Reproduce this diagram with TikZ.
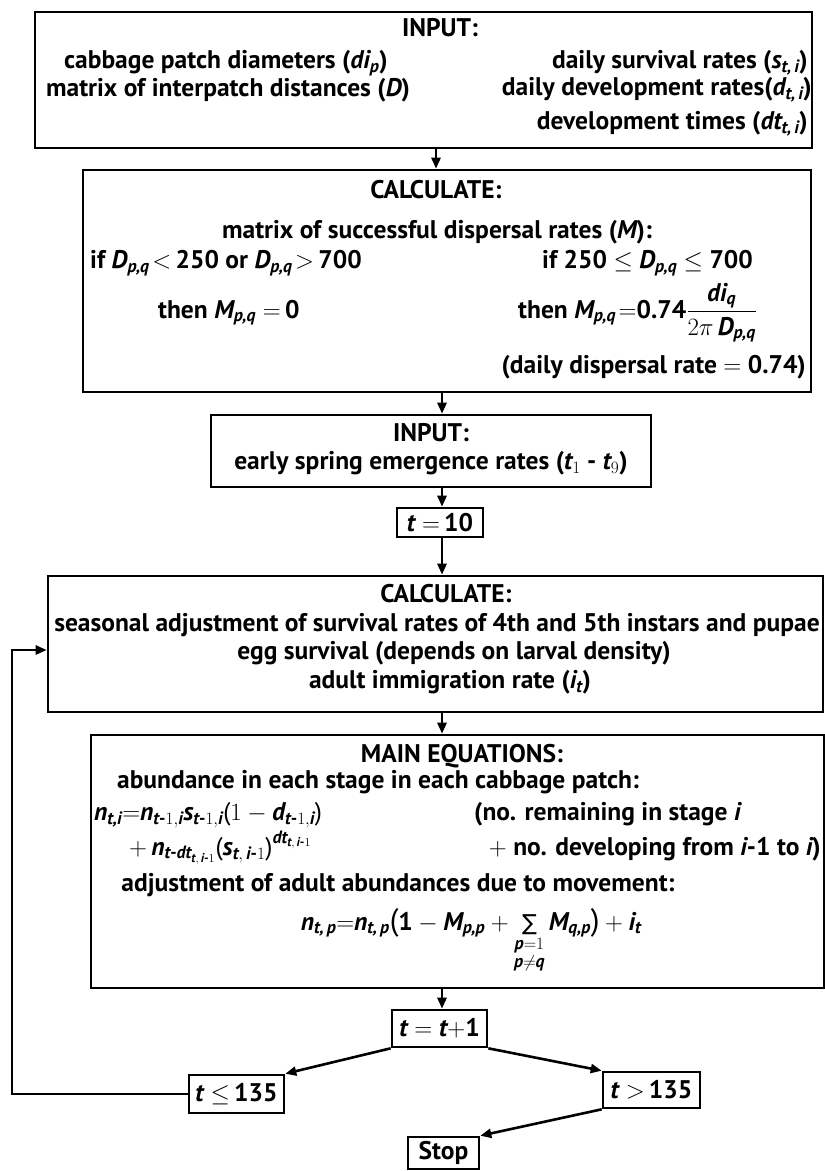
\documentclass[tikz,border=0pt]{standalone}
\usepackage{amsmath}
\usepackage{fontspec}
\setmainfont{PT Sans}
\newfontfamily\djv{DejaVu Sans}
\usetikzlibrary{arrows.meta,calc}
\newcommand\V[1]{\text{\bfseries\itshape #1}}
\newcommand\SUM{\mathop{\text{\djv\mdseries\fontsize{22}{22}\selectfont ∑}}\limits}
\newcommand\BP[1]{\text{\mdseries\fontsize{31}{31}\selectfont #1}}
\newcommand\TP[1]{\text{\mdseries #1}}
\begin{document}
\begin{tikzpicture}[x=1pt,y=-1pt,
  box/.style={draw,line width=2.6pt,inner sep=0pt},
  txt/.style={inner sep=0pt,font=\bfseries\fontsize{25.5}{28}\selectfont},
  arr/.style={line width=2.6pt,-{Triangle[length=11pt,width=9pt]}}]
\useasboundingbox (0,0) rectangle (825,1171);
% boxes
\node[box,minimum width=777pt,minimum height=136pt] (b1) at (423.5,80) {};
\node[box,minimum width=728pt,minimum height=222pt] (b2) at (447,281) {};
\node[box,minimum width=440pt,minimum height=72pt] (b3) at (431,451) {};
\node[box,txt,minimum width=86pt,minimum height=29pt] (t10) at (440,522.5) {$\V{t}=$\,10};
\node[box,minimum width=775pt,minimum height=136pt] (b4) at (435.5,644) {};
\node[box,minimum width=733pt,minimum height=253pt] (b5) at (457.5,861.5) {};
\node[box,txt,minimum width=95pt,minimum height=37pt] (tp1) at (439.5,1028.5) {$\V{t}=\V{t}+$1};
\node[box,txt,minimum width=95pt,minimum height=38pt] (tle) at (236.5,1094) {$\V{t}\le$\,135};
\node[box,txt,minimum width=97pt,minimum height=36pt] (tgt) at (651.5,1090) {$\V{t}>$\,135};
\node[box,txt,minimum width=71pt,minimum height=32pt] (stop) at (443.5,1153) {Stop};
% box 1 text
\node[txt] (in1) at (440,28) {INPUT:};
\node[txt] (l1) at (226,63) {cabbage patch diameters ($\V{di}_{\V{p}}$)};
\node[txt] (l2) at (228,90) {matrix of interpatch distances ($\V{D}$)};
\node[txt,anchor=east] (r1) at (808,63) {daily survival rates ($\V{s}_{\V{t,\,i}}$)};
\node[txt,anchor=east] (r2) at (812,90) {daily development rates($\V{d}_{\V{t,\,i}}$)};
\node[txt,anchor=east] (r3) at (808,124) {development times ($\V{dt}_{\V{t,\,i}}$)};
% box 2 text
\node[txt] (c1) at (436,190) {CALCULATE:};
\node[txt] (m1) at (437,232) {matrix of successful dispersal rates ($\V{M}$):};
\node[txt,anchor=west] (if1) at (90,263) {if $\V{D}_{\V{p,q}}\!<$\,250 or $\V{D}_{\V{p,q}}\!>$\,700};
\node[txt,anchor=west] (if2) at (542,263) {if 250 $\le$ $\V{D}_{\V{p,q}}$ $\le$ 700};
\node[txt,anchor=base west] (th1) at (158,318) {then $\V{M}_{\V{p,q}}=$\,0};
\node[txt,anchor=base west] (th2) at (518,318) {then $\V{M}_{\V{p,q}}\!=$0.74$\dfrac{\V{di}_{\V{q}}}{2\pi\,\V{D}_{\V{p,q}}}$};
\node[txt,anchor=east] (dd) at (806,367) {(daily dispersal rate $=$ 0.74)};
% box 3 text
\node[txt] (in2) at (431,433) {INPUT:};
\node[txt] (es) at (431,463) {early spring emergence rates ($\V{t}_1$ - $\V{t}_9$)};
% box 4 text
\node[txt] (c2) at (446,594) {CALCULATE:};
\node[txt] (sa) at (437,625) {seasonal adjustment of survival rates of 4th and 5th instars and pupae};
\node[txt] (eg) at (454,653) {egg survival (depends on larval density)};
\node[txt] (ai) at (450,682) {adult immigration rate ($\V{i}_{\V{t}}$)};
% box 5 text
\node[txt] (me) at (462,756) {MAIN EQUATIONS:};
\node[txt] (ab) at (378,782) {abundance in each stage in each cabbage patch:};
\node[txt,anchor=base west] (e1) at (94,820) {$\V{n}_{\V{t,i}}{=}\V{n}_{\V{t}\text{-}1,\V{i}}\V{s}_{\V{t}\text{-}1,\V{i}}\TP{(}1-\V{d}_{\V{t}\text{-}1,\V{i}}\TP{)}$};
\node[txt,anchor=base west] (nr) at (474,820) {(no. remaining in stage $\V{i}$};
\node[txt,anchor=base west] (e2) at (129,855) {$+\,\V{n}_{\V{t}\text{-}\V{dt}_{\V{t},\,\V{i}\text{-}1}}\TP{(}\V{s}_{\V{t},\,\V{i}\text{-}1}\TP{)}^{\V{dt}_{\V{t},\,\V{i}\text{-}1}}$};
\node[txt,anchor=base east] (nd) at (821,855) {$+$ no. developing from $\V{i}$-1 to $\V{i}$)};
\node[txt] (ad) at (398,885) {adjustment of adult abundances due to movement:};
\node[txt,anchor=base] (e3) at (471,930) {$\V{n}_{\V{t,\,p}}{=}\V{n}_{\V{t,\,p}}\BP{(}\text{1}-\V{M}_{\V{p,p}}+\SUM_{\substack{\V{p}=1\\ \V{p}\neq\V{q}}}\V{M}_{\V{q,p}}\BP{)}+\V{i}_{\V{t}}$};
% connectors
\coordinate (sa1) at (436,0);
\coordinate (sp) at (442,0);
\draw[arr] (b1.south -| sa1) -- (b2.north -| sa1);
\draw[arr] (b2.south -| sp) -- (b3.north -| sp);
\draw[arr] (b3.south -| sp) -- (t10.north -| sp);
\draw[arr] (t10.south -| sp) -- (b4.north -| sp);
\draw[arr] (b4.south -| sp) -- (b5.north -| sp);
\draw[arr] (b5.south -| sp) -- (tp1.north -| sp);
\draw[arr] (tp1.south west) -- (tle.north east);
\draw[arr] (tp1.south east) -- (tgt.north west);
\draw[arr] (tgt.south west) -- (stop.north east);
\coordinate (lx) at (12,0);
\coordinate (lin) at ([yshift=-6pt]b4.west);
\draw[arr] (tle.west) -- (tle.west -| lx) |- (lin);
\end{tikzpicture}
\end{document}
